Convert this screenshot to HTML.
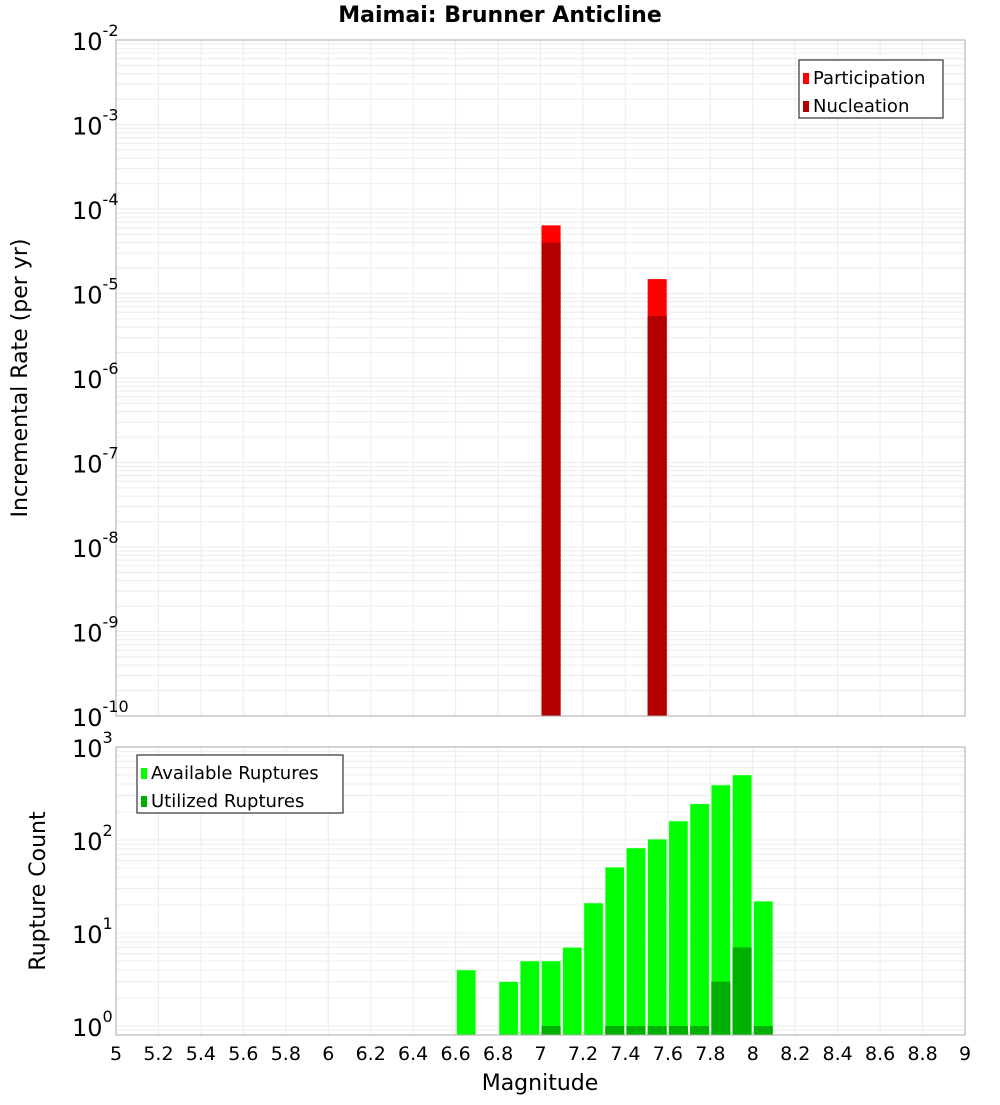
<!DOCTYPE html>
<html><head><meta charset="utf-8"><style>
body{margin:0;background:#fff;font-family:"Liberation Sans","DejaVu Sans",sans-serif}
svg text{font-family:"DejaVu Sans","Liberation Sans",sans-serif}
</style></head><body>
<svg id="c" width="1000" height="1100" xmlns="http://www.w3.org/2000/svg"></svg>
<script>
const mags = [6.6,6.8,6.9,7.0,7.1,7.2,7.3,7.4,7.5,7.6,7.7,7.8,7.9,8.0];
const available = [4,3,5,5,7,21,51,82,102,160,245,390,500,22];
const utilizedMags = [7.0,7.3,7.4,7.5,7.6,7.7,7.8,7.9,8.0];
const utilized = [1,1,1,1,1,1,3,7,1];
const rateMags = [7.0,7.5];
const participation = [6.4e-5,1.48e-5];
const nucleation = [4.0e-5,5.4e-6];
const xTicks = [5,5.2,5.4,5.6,5.8,6,6.2,6.4,6.6,6.8,7,7.2,7.4,7.6,7.8,8,8.2,8.4,8.6,8.8,9];
const topExps = [-10,-9,-8,-7,-6,-5,-4,-3,-2];
const botExps = [0,1,2,3];

const svg=document.getElementById('c');
const NS='http://www.w3.org/2000/svg';
function el(t,a,p){const e=document.createElementNS(NS,t);for(const k in a)e.setAttribute(k,a[k]);(p||svg).appendChild(e);return e;}
const L=116,R=965;
const x=m=>L+(m-5)/4*(R-L);
const T1=40,B1=716, yT=v=>B1-(Math.log10(v)+10)*(B1-T1)/8;
const T2=747, y0=1026, dec=(y0-T2)/3, B2=1035, yB=v=>y0-Math.log10(v)*dec;

function grid(top,bot,yf,emin,emax,name){
  const g=el('g',{});
  
  
  for(let e=emin-1;e<=emax;e++)for(let k=1;k<10;k++){const yy=yf(k*Math.pow(10,e));if(yy<top||yy>bot)continue;
    el('line',{x1:L,x2:R,y1:yy,y2:yy,stroke:'#ececec','stroke-width':1},g);}
  xTicks.forEach(t=>{el('line',{x1:x(t),x2:x(t),y1:top,y2:bot,stroke:'#ececec','stroke-width':1},g);});
}
grid(T1,B1,yT,-10,-2,'top-grid');
grid(T2,B2,yB,0,3,'bottom-grid');

// top bars
rateMags.forEach((m,i)=>{
  const b=el('rect',{x:x(m)+1,y:yT(participation[i]),width:x(m+0.09)-x(m),height:B1-yT(participation[i]),fill:'#ff0000'});
  
  
  const n=el('rect',{x:x(m)+1,y:yT(nucleation[i]),width:x(m+0.09)-x(m),height:B1-yT(nucleation[i]),fill:'#b20000'});
  
  
});
// bottom bars
mags.forEach((m,i)=>{
  const b=el('rect',{x:x(m)+1,y:yB(available[i]),width:x(m+0.09)-x(m),height:B2-yB(available[i]),fill:'#00ff00',stroke:'#d0ffd0','stroke-width':0.5});
  
  
});
utilizedMags.forEach((m,i)=>{
  const b=el('rect',{x:x(m)+1,y:yB(utilized[i]),width:x(m+0.09)-x(m),height:B2-yB(utilized[i]),fill:'#00b000'});
  
  
});
// frames
el('rect',{x:L,y:T1,width:R-L,height:B1-T1,fill:'none',stroke:'#aaa'});
el('rect',{x:L,y:T2,width:R-L,height:B2-T2,fill:'none',stroke:'#aaa'});

function tickLab(e,yy,name){
  const t=el('text',{x:110,y:yy+10,'text-anchor':'end','font-size':24,fill:'#000'});
  
  
  t.textContent='10';
  const s=el('tspan',{dy:-14,'font-size':16});s.textContent=e;t.appendChild(s);
  t.setAttribute('text-anchor','start');t.setAttribute('x',72);
}
topExps.forEach(e=>tickLab(e,yT(Math.pow(10,e)),'top-y-tick'));
botExps.forEach(e=>tickLab(e,yB(Math.pow(10,e)),'bottom-y-tick'));
xTicks.forEach(t=>{const tx=el('text',{x:x(t),y:1060,'text-anchor':'middle','font-size':19,fill:'#000'});
  
  
  tx.textContent=String(t);});

function txt(s,a,name){const t=el('text',a);t.textContent=s;return t;}
txt('Maimai: Brunner Anticline',{x:500,y:22,'text-anchor':'middle','font-size':22,'font-weight':'bold'},'chart-title');
txt('Magnitude',{x:540,y:1090,'text-anchor':'middle','font-size':22},'x-axis-title');
txt('Incremental Rate (per yr)',{x:0,y:0,transform:'translate(27,378) rotate(-90)','text-anchor':'middle','font-size':22},'top-y-axis-title');
txt('Rupture Count',{x:0,y:0,transform:'translate(45,891) rotate(-90)','text-anchor':'middle','font-size':22},'bottom-y-axis-title');

// legends
function legend(lx,ly,w,items,name){
  const g=el('g',{});
  el('rect',{x:lx,y:ly,width:w,height:58,fill:'#fff',stroke:'#333','stroke-width':1.2},g);
  items.forEach((it,i)=>{
    el('rect',{x:lx+4,y:ly+13+i*28,width:6,height:11,fill:it[1]},g);
    const t=el('text',{x:lx+14,y:ly+24+i*28,'font-size':18},g);t.textContent=it[0];
  });
}
legend(799,60,144,[['Participation','#ff0000'],['Nucleation','#b20000']],'top-legend');
legend(137,755,206,[['Available Ruptures','#00ff00'],['Utilized Ruptures','#00b000']],'bottom-legend');
</script>
</body></html>
